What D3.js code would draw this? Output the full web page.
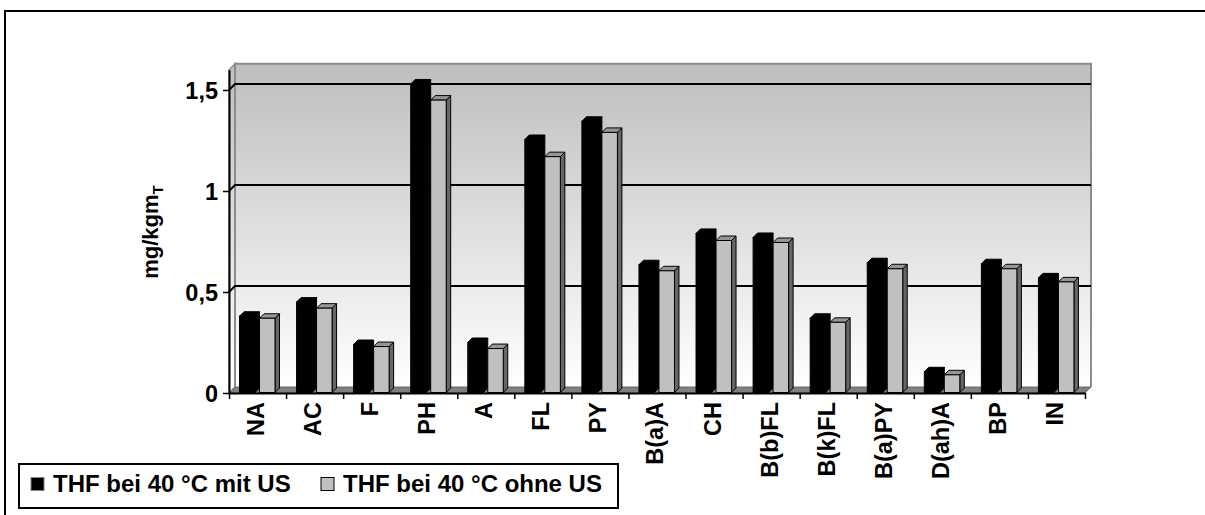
<!DOCTYPE html>
<html>
<head>
<meta charset="utf-8">
<script src="https://cdn.jsdelivr.net/npm/d3@7"></script>
<style>
  body { margin: 0; background: #fff; }
  svg { display: block; }
  text { font-family: "Liberation Sans", Arial, sans-serif; font-weight: bold; fill: #000; }
</style>
</head>
<body>
<svg id="chart" width="1205" height="515"></svg>
<script>
// PAH contents per compound, two extraction variants
const categories = ["NA", "AC", "F", "PH", "A", "FL", "PY", "B(a)A", "CH", "B(b)FL", "B(k)FL", "B(a)PY", "D(ah)A", "BP", "IN"];
const seriesNames = ["THF bei 40 °C mit US", "THF bei 40 °C ohne US"];
const mitUS  = [0.38, 0.45, 0.24, 1.53, 0.25, 1.255, 1.345, 0.635, 0.79, 0.77, 0.37, 0.645, 0.105, 0.64, 0.57];
const ohneUS = [0.37, 0.42, 0.23, 1.45, 0.22, 1.17, 1.29, 0.605, 0.755, 0.745, 0.35, 0.615, 0.09, 0.615, 0.55];
const yTicks = [0, 0.5, 1, 1.5];
const yMax = 1.6;

const svg = d3.select("#chart");
const FONT = 23.5;

const plot = { left: 229, right: 1085, bottom: 393, top: 69.8 };
const wall = { dx: 6, dy: -6 };
const bar = { dx: 4.5, dy: -4.5, offset: 10.5, width: 15.5 };

const x = d3.scaleBand().domain(categories).range([plot.left, plot.right]).padding(0);
const xi = d3.scaleLinear().domain([0, categories.length]).range([plot.left, plot.right]);
const y = d3.scaleLinear().domain([0, yMax]).range([plot.bottom, plot.top]);

// chart area frame
svg.append("rect")
  .attr("x", 5).attr("y", 11).attr("width", 1240).attr("height", 560)
  .attr("fill", "#fff").attr("stroke", "#000").attr("stroke-width", 2);

// wall gradient
const defs = svg.append("defs");
const grad = defs.append("linearGradient").attr("id", "wallGrad")
  .attr("gradientUnits", "userSpaceOnUse")
  .attr("x1", 0).attr("x2", 0)
  .attr("y1", y(yMax) + wall.dy).attr("y2", y(0) + wall.dy);
grad.append("stop").attr("offset", 0).attr("stop-color", "#bebebe");
grad.append("stop").attr("offset", 1).attr("stop-color", "#ffffff");

const line = d3.line();

// side wall
svg.append("path")
  .attr("d", line([[plot.left, y(0)], [plot.left, y(yMax)], [plot.left + wall.dx, y(yMax) + wall.dy], [plot.left + wall.dx, y(0) + wall.dy]]) + "Z")
  .attr("fill", "url(#wallGrad)").attr("stroke", "#8c8c8c").attr("stroke-width", 1.5);

// back wall
svg.append("rect")
  .attr("x", plot.left + wall.dx).attr("y", y(yMax) + wall.dy)
  .attr("width", plot.right - plot.left).attr("height", y(0) - y(yMax))
  .attr("fill", "url(#wallGrad)");
svg.append("path")
  .attr("d", line([[plot.left + wall.dx, y(0) + wall.dy], [plot.left + wall.dx, y(yMax) + wall.dy], [plot.right + wall.dx, y(yMax) + wall.dy], [plot.right + wall.dx, y(0) + wall.dy]]))
  .attr("fill", "none").attr("stroke", "#8c8c8c").attr("stroke-width", 2);

// floor
svg.append("path")
  .attr("d", line([[plot.left, y(0)], [plot.left + wall.dx, y(0) + wall.dy], [plot.right + wall.dx, y(0) + wall.dy], [plot.right, y(0)]]) + "Z")
  .attr("fill", "#808080").attr("stroke", "#6a6a6a").attr("stroke-width", 1);

// gridlines across side wall and back wall
svg.append("g").selectAll("path")
  .data(yTicks.filter(t => t > 0))
  .join("path")
  .attr("d", t => line([[plot.left, y(t)], [plot.left + wall.dx, y(t) + wall.dy], [plot.right + wall.dx, y(t) + wall.dy]]))
  .attr("fill", "none").attr("stroke", "#000").attr("stroke-width", 2);

// 3D columns
const series = [
  { name: seriesNames[0], values: mitUS, front: "#000000", top: "#000000", side: "#000000", shift: 0 },
  { name: seriesNames[1], values: ohneUS, front: "#c0c0c0", top: "#969696", side: "#666666", shift: 1 }
];
const barsG = svg.append("g");
categories.forEach((c, i) => {
  series.forEach(s => {
    const v = s.values[i];
    const x0 = x(c) + bar.offset + s.shift * (bar.width + bar.dx);
    const x1 = x0 + bar.width;
    const yt = y(v);
    const yb = y(0) - 0.5;
    const g = barsG.append("g");
    g.append("path")
      .attr("d", line([[x1, yb], [x1, yt], [x1 + bar.dx, yt + bar.dy], [x1 + bar.dx, yb + bar.dy]]) + "Z")
      .attr("fill", s.side).attr("stroke", "#000").attr("stroke-width", 1).attr("stroke-linejoin", "round");
    g.append("path")
      .attr("d", line([[x0, yt], [x0 + bar.dx, yt + bar.dy], [x1 + bar.dx, yt + bar.dy], [x1, yt]]) + "Z")
      .attr("fill", s.top).attr("stroke", "#000").attr("stroke-width", 1).attr("stroke-linejoin", "round");
    g.append("rect")
      .attr("x", x0).attr("y", yt).attr("width", bar.width).attr("height", yb - yt)
      .attr("fill", s.front).attr("stroke", "#000").attr("stroke-width", 1);
  });
});

// value axis
const yAxis = svg.append("g")
  .attr("transform", `translate(${plot.left},0)`)
  .call(d3.axisLeft(y).tickValues(yTicks).tickSize(6).tickSizeOuter(0).tickPadding(5)
    .tickFormat(d => String(d).replace(".", ",")));
yAxis.select(".domain").attr("stroke", "#000").attr("stroke-width", 2);
yAxis.selectAll(".tick line").attr("stroke", "#000").attr("stroke-width", 1.5);
yAxis.selectAll(".tick text")
  .attr("font-size", FONT).attr("font-family", null).attr("fill", "#000").attr("dy", "0.36em");

// category axis with ticks between categories
const xAxis = svg.append("g")
  .attr("transform", `translate(0,${plot.bottom})`)
  .call(d3.axisBottom(xi).tickValues(d3.range(categories.length + 1)).tickSize(6).tickSizeOuter(0).tickFormat(""));
xAxis.select(".domain").attr("stroke", "#000").attr("stroke-width", 2);
xAxis.selectAll(".tick line").attr("stroke", "#000").attr("stroke-width", 1.5);

svg.append("g").selectAll("text")
  .data(categories)
  .join("text")
  .attr("transform", c => `translate(${x(c) + x.bandwidth() / 2 - 2},402) rotate(-90)`)
  .attr("text-anchor", "end")
  .attr("dy", "0.36em")
  .attr("font-size", FONT)
  .text(c => c);

// value axis title
const yTitle = svg.append("text")
  .attr("transform", "translate(158,232) rotate(-90)")
  .attr("text-anchor", "middle")
  .attr("font-size", 22);
yTitle.append("tspan").text("mg/kgm");
yTitle.append("tspan").attr("font-size", 15).attr("dy", 5).text("T");

// legend
const legend = svg.append("g");
legend.append("rect")
  .attr("x", 19).attr("y", 464).attr("width", 599).attr("height", 44)
  .attr("fill", "#fff").attr("stroke", "#000").attr("stroke-width", 2);
const legendX = [31, 321];
series.forEach((s, k) => {
  legend.append("rect")
    .attr("x", legendX[k]).attr("y", 477.5).attr("width", 13).attr("height", 13)
    .attr("fill", s.front).attr("stroke", k === 0 ? "#808080" : "#000").attr("stroke-width", 1);
  legend.append("text")
    .attr("x", legendX[k] + 22).attr("y", 492)
    .attr("font-size", 24)
    .text(s.name);
});
</script>
</body>
</html>
